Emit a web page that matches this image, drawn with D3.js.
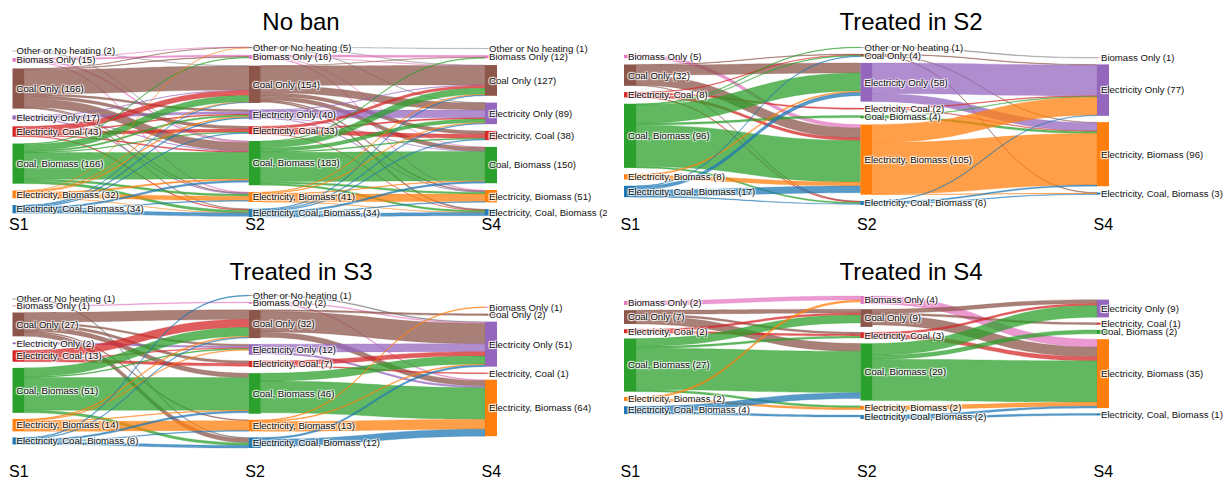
<!DOCTYPE html>
<html><head><meta charset="utf-8">
<script src="https://cdn.jsdelivr.net/npm/d3@7"></script>
<style>
body{margin:0;background:#fff;}
svg{display:block;font-family:"Liberation Sans",Arial,Helvetica,sans-serif;}
.lbl{font-size:9.6px;fill:#111;text-shadow:1px 1px 1px #fff,-1px -1px 1px #fff,1px -1px 1px #fff,-1px 1px 1px #fff;}
.ttl{font-size:24px;fill:#000;}
.wave{font-size:16px;fill:#000;}
</style></head><body><svg id="c" width="1227" height="480"></svg>
<script>
// ---------------- data ----------------
const categories = ["Other or No heating","Biomass Only","Coal Only","Electricity Only","Electricity, Coal","Coal, Biomass","Electricity, Biomass","Electricity, Coal, Biomass"];
const waves = ["S1","S2","S4"];
const panelTitles = ["No ban","Treated in S2","Treated in S3","Treated in S4"];

// node counts per wave (0 = category absent)
const noBanS1 = [2,15,166,17,43,166,32,34];
const noBanS2 = [5,16,154,40,33,183,41,34];
const noBanS4 = [1,12,127,89,38,150,51,27];
const treatS2S1 = [0,5,32,0,8,96,8,17];
const treatS2S2 = [1,0,4,58,2,4,105,6];
const treatS2S4 = [0,1,0,77,0,0,96,3];
const treatS3S1 = [1,1,27,2,13,51,14,8];
const treatS3S2 = [1,2,32,12,7,46,13,12];
const treatS3S4 = [0,1,2,51,1,0,64,0];
const treatS4S1 = [0,2,7,0,2,27,2,4];
const treatS4S2 = [0,4,9,0,3,29,2,2];
const treatS4S4 = [0,0,0,9,1,2,35,1];

// flows: rows = origin category, columns = destination category
const noBanFlow12 = [
  [0,0,1,0,0,1,0,0],
  [1,6,0,0,0,5,3,0],
  [2,3,100,8,12,35,3,3],
  [0,0,2,10,0,2,3,0],
  [0,0,20,4,12,4,0,3],
  [0,3,26,6,3,110,8,10],
  [1,0,2,4,0,6,18,1],
  [0,0,2,4,3,8,3,14]];
const noBanFlow24 = [
  [1,0,1,1,0,0,0,0],
  [0,8,1,0,0,1,3,0],
  [0,1,80,30,14,17,4,5],
  [0,0,2,32,0,1,2,0],
  [0,0,11,5,16,0,0,1],
  [0,3,26,14,4,121,8,7],
  [0,0,3,3,0,3,31,1],
  [0,0,3,4,4,7,3,13]];
const treatS2Flow12 = [
  [0,0,0,0,0,0,0,0],
  [0,0,0,0,0,0,5,0],
  [0,0,1,15,0,0,15,1],
  [0,0,0,0,0,0,0,0],
  [0,0,1,0,2,0,4,1],
  [1,0,1,27,0,3,62,2],
  [0,0,0,2,0,0,6,0],
  [0,0,1,5,0,0,10,1]];
const treatS2Flow24 = [
  [0,1,0,0,0,0,0,0],
  [0,0,0,0,0,0,0,0],
  [0,0,0,1,0,0,1,1],
  [0,0,0,46,0,0,12,0],
  [0,0,0,1,0,0,1,0],
  [0,0,0,1,0,0,3,0],
  [0,0,0,27,0,0,77,1],
  [0,0,0,1,0,0,2,1]];
const treatS3Flow12 = [
  [0,0,0,0,0,0,0,1],
  [0,1,0,0,0,0,0,0],
  [0,0,11,2,3,5,1,5],
  [0,0,0,2,0,0,0,0],
  [0,0,9,1,3,0,0,0],
  [0,0,10,1,0,37,0,3],
  [0,0,1,1,0,1,11,0],
  [1,0,1,0,0,2,1,3]];
const treatS3Flow24 = [
  [0,0,0,1,0,0,0,0],
  [0,0,0,1,0,0,1,0],
  [0,0,2,23,0,0,6,0],
  [0,0,0,9,0,0,2,0],
  [0,0,0,5,1,0,0,0],
  [0,0,0,9,0,0,36,0],
  [0,1,0,1,0,0,11,0],
  [0,0,0,2,0,0,8,0]];
const treatS4Flow12 = [
  [0,0,0,0,0,0,0,0],
  [0,2,0,0,0,0,0,0],
  [0,0,2,0,1,4,0,0],
  [0,0,0,0,0,0,0,0],
  [0,0,1,0,1,0,0,0],
  [0,0,4,0,1,21,1,0],
  [0,1,0,0,0,0,1,0],
  [0,0,0,0,0,3,0,1]];
const treatS4Flow24 = [
  [0,0,0,0,0,0,0,0],
  [0,0,0,0,0,0,4,0],
  [0,0,0,2,1,0,5,0],
  [0,0,0,0,0,0,0,0],
  [0,0,0,1,0,0,2,0],
  [0,0,0,6,0,2,21,0],
  [0,0,0,0,0,0,2,0],
  [0,0,0,0,0,0,1,1]];

// ---------------- style / layout ----------------
const palette = ["#7f7f7f","#e377c2","#8c564b","#9467bd","#d62728","#2ca02c","#ff7f0e","#1f77b4"];
const color = d3.scaleOrdinal().domain(d3.range(categories.length)).range(palette);
const nodeW = 12;

const panels = [
  {title: panelTitles[0], counts:[noBanS1,noBanS2,noBanS4], flows:[noBanFlow12,noBanFlow24],
   x0:12.5, span:472.5, top:47, h:170, pad:6.8, tx:301, ty:30, wy:229.5, clip:607},
  {title: panelTitles[1], counts:[treatS2S1,treatS2S2,treatS2S4], flows:[treatS2Flow12,treatS2Flow24],
   x0:624, span:473, top:47, h:158, pad:6.3, tx:911, ty:30, wy:229.5, clip:1227},
  {title: panelTitles[2], counts:[treatS3S1,treatS3S2,treatS3S4], flows:[treatS3Flow12,treatS3Flow24],
   x0:12.5, span:472.5, top:295, h:153, pad:6.1, tx:301, ty:279.5, wy:476.5, clip:607},
  {title: panelTitles[3], counts:[treatS4S1,treatS4S2,treatS4S4], flows:[treatS4Flow12,treatS4Flow24],
   x0:624, span:473, top:296, h:123, pad:5.3, tx:911, ty:279.5, wy:476.5, clip:1227}
];

const svg = d3.select("#c");
const defs = svg.append("defs");

function ribbon(l){
  const xm = (l.sx + l.tx) / 2;
  const p = d3.path();
  p.moveTo(l.sx, l.sy0);
  p.bezierCurveTo(xm, l.sy0, xm, l.ty0, l.tx, l.ty0);
  p.lineTo(l.tx, l.ty1);
  p.bezierCurveTo(xm, l.ty1, xm, l.sy1, l.sx, l.sy1);
  p.closePath();
  return p.toString();
}

panels.forEach((lay, pi) => {
  defs.append("clipPath").attr("id","clip"+pi)
    .append("rect").attr("x", lay.clip === 607 ? 0 : 612).attr("y", 0)
    .attr("width", lay.clip === 607 ? 607 : 615).attr("height", 480);
  const g = svg.append("g").attr("clip-path", `url(#clip${pi})`);
  const x = d3.scalePoint().domain(waves).range([lay.x0, lay.x0 + lay.span]);

  const cols = lay.counts.map((arr, ci) =>
    arr.map((v, i) => ({cat:i, value:v, col:ci})).filter(d => d.value > 0));
  const ky = d3.min(cols, c => (lay.h - (c.length - 1) * lay.pad) / d3.sum(c, d => d.value));
  const hs = d3.scaleLinear().domain([0, 1]).range([0, ky]);

  cols.forEach((c, ci) => {
    const tot = d3.sum(c, d => hs(d.value)) + (c.length - 1) * lay.pad;
    let y = lay.top + (lay.h - tot) / 2;
    c.forEach(d => {
      d.x0 = x(waves[ci]); d.x1 = d.x0 + nodeW;
      d.y0 = y; d.y1 = y + hs(d.value); y = d.y1 + lay.pad;
      d.outY = d.y0; d.inY = d.y0;
    });
  });

  const links = [];
  lay.flows.forEach((m, fi) => {
    const S = new Map(cols[fi].map(d => [d.cat, d]));
    const T = new Map(cols[fi + 1].map(d => [d.cat, d]));
    const byKey = new Map();
    for (let i = 0; i < m.length; i++) for (let j = 0; j < m[i].length; j++) {
      const v = m[i][j];
      if (!v || !S.has(i) || !T.has(j)) continue;
      const s = S.get(i), w = hs(v);
      const l = {src:i, value:v, sx:s.x1, sy0:s.outY, sy1:s.outY + w, tx:T.get(j).x0};
      s.outY += w;
      byKey.set(i + "_" + j, l);
      links.push(l);
    }
    for (let j = 0; j < 8; j++) for (let i = 0; i < 8; i++) {
      const l = byKey.get(i + "_" + j);
      if (!l) continue;
      const t = T.get(j), w = hs(l.value);
      l.ty0 = t.inY; l.ty1 = t.inY + w; t.inY += w;
    }
  });

  g.append("g").selectAll("path").data(links).join("path")
    .attr("d", ribbon)
    .attr("fill", d => color(d.src)).attr("fill-opacity", 0.75)
    .attr("stroke", d => color(d.src)).attr("stroke-opacity", 0.55).attr("stroke-width", 0.5);

  const nodes = cols.flat();
  g.append("g").selectAll("rect").data(nodes).join("rect")
    .attr("x", d => d.x0).attr("y", d => d.y0)
    .attr("width", nodeW).attr("height", d => Math.max(0.6, d.y1 - d.y0))
    .attr("fill", d => color(d.cat));

  g.append("g").selectAll("text").data(nodes).join("text")
    .attr("class", "lbl")
    .attr("x", d => d.x0 + 4).attr("y", d => (d.y0 + d.y1) / 2)
    .attr("dy", "0.35em")
    .text(d => `${categories[d.cat]} (${d.value})`);

  svg.append("text").attr("class","ttl").attr("text-anchor","middle")
    .attr("x", lay.tx).attr("y", lay.ty).text(lay.title);
  svg.append("g").selectAll("text").data(waves).join("text")
    .attr("class","wave").attr("x", d => x(d) - 3.5).attr("y", lay.wy).text(d => d);
});
</script></body></html>
